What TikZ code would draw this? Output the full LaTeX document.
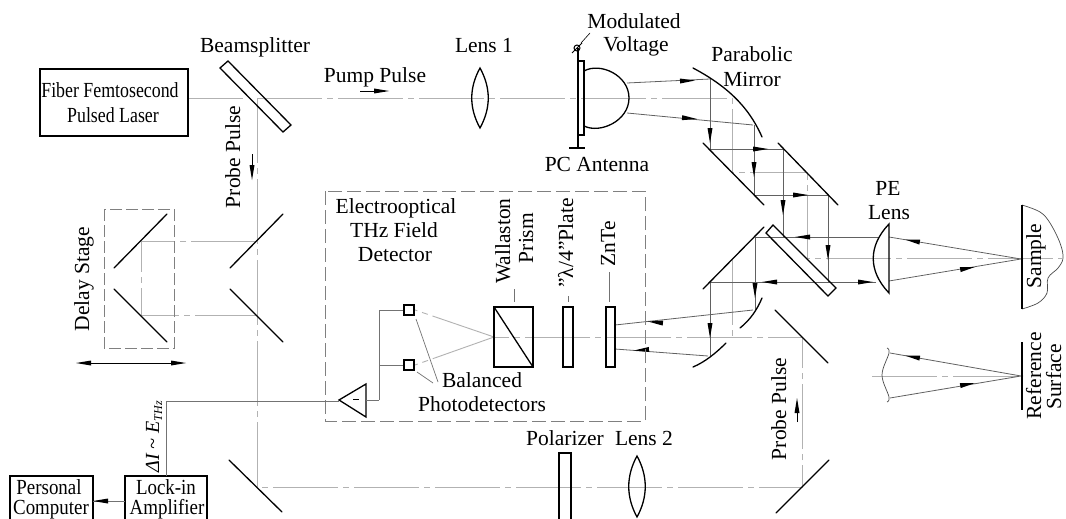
\documentclass[tikz,border=0pt]{standalone}
\usepackage{fontspec}
\setmainfont{Liberation Serif}
\newfontfamily\condfont[FakeStretch=0.83]{Liberation Serif}
\newfontfamily\boxfont[FakeStretch=0.88]{Liberation Serif}
\tikzset{
  x=1pt,y=-1pt,
  lbl/.style={anchor=base,inner sep=0pt,outer sep=0pt,align=center,font=\fontsize{21.5}{24}\selectfont},
  vlbl/.style={lbl,rotate=90},
  optic/.style={draw=black,line width=1.3pt,line cap=round},
  axisline/.style={draw=black!30,line width=0.9pt,dash pattern=on 65pt off 5pt on 6pt off 5pt},
  wire/.style={draw=black!55,line width=0.9pt},
  ray/.style={draw=black!62,line width=0.8pt},
  dashbox/.style={draw=black!50,line width=0.9pt,dash pattern=on 14pt off 5pt},
  unitbox/.style={draw=black,line width=1.3pt},
}
\newcommand{\tipat}[3]{\fill[black,shift={(#1,#2)},rotate=#3] (0,0) -- (-15,2.5) -- (-15,-2.5) -- cycle;}
\begin{document}
\begin{tikzpicture}
\useasboundingbox[fill=white] (0,0) rectangle (1066,519);
% dash-dot beam axes
\draw[axisline] (188,98) -- (243,98);
\draw[axisline] (257,98) -- (732,98) -- (732,172) -- (807,172) -- (807,258) -- (1062,258);
\draw[axisline] (257,98) -- (257,487) -- (802,487) -- (802,337) -- (494,337);
\draw[axisline] (732,260) -- (732,337);
\draw[axisline] (256,241) -- (141,241) -- (141,315) -- (256,315);
\draw[axisline] (494,337) -- (415,310);
\draw[axisline] (494,337) -- (415,365);
\draw[axisline] (872,376) -- (1021,376);
% solid beams
\draw[ray] (710,79) -- (710,149) -- (783,149) -- (783,237);
\draw[ray] (754,125) -- (754,195) -- (828,195) -- (828,282);
\draw[ray] (878,237) -- (755,237) -- (755,310);
\draw[ray] (876,282) -- (710,282) -- (710,356);
\draw[ray] (627,83) -- (710,79);
\draw[ray] (627,113) -- (753,125);
\draw[ray] (753,310) -- (615,325);
\draw[ray] (708,356) -- (615,349);
\draw[ray] (889,237) -- (1021,259) -- (889,281);
\draw[ray] (890,353) -- (1021,376) -- (890,398);
% beam arrowheads
\tipat{695}{80.5}{2}
\tipat{697}{119}{-5}
\tipat{710}{143}{-90}
\tipat{754}{177}{-90}
\tipat{768}{149}{0}
\tipat{808}{195}{0}
\tipat{783}{215}{-90}
\tipat{795}{237}{180}
\tipat{828}{260}{-90}
\tipat{762}{282}{180}
\tipat{873}{282}{0}
\tipat{755}{298}{-90}
\tipat{710}{338}{-90}
\tipat{648}{321.5}{174}
\tipat{634}{350.5}{184}
\tipat{905}{239.5}{170}
\tipat{975}{267}{10}
\tipat{905}{355.5}{170}
\tipat{975}{383}{10}
% laser and beamsplitter
\node[unitbox,minimum width=148pt,minimum height=67pt,inner sep=0pt] (laser) at (114,102.5) {};
\node[lbl] (laserA) at (110,98) {\condfont Fiber Femtosecond};
\node[lbl] (laserB) at (113,122) {\condfont Pulsed Laser};
\draw[optic,line cap=butt,line join=miter] (220,68) -- (228,61) -- (291,125) -- (283,132) -- cycle;
\node[lbl] (bs) at (255,53) {Beamsplitter};
% pump pulse
\node[lbl] (pump) at (375,82) {Pump Pulse};
\draw[line width=0.6pt] (360,91) -- (385,91);
\tipat{389}{91}{0}
% lens 1
\node[lbl] (lensA) at (484,53) {Lens 1};
\draw[optic] (480,68) .. controls (491,88) and (491,108) .. (480,128) .. controls (469,108) and (469,88) .. (480,68) -- cycle;
% antenna
\draw[optic,line cap=butt] (578,61) rectangle (584,135);
\draw[optic,line cap=butt] (578,48) -- (578,148);
\draw[optic,line cap=butt] (569,148) -- (585,148);
\draw[optic,line cap=butt] (584,71) .. controls (600,62) and (629,75) .. (629,98) .. controls (629,121) and (600,134) .. (584,126);
\draw[line width=1pt] (577,48) circle[radius=3];
\draw[line width=1pt] (572,53) -- (582,43);
\draw[line width=0.6pt] (581,43) -- (590,33);
\node[lbl] (volA) at (634,29) {Modulated};
\node[lbl] (volB) at (636,52) {Voltage};
\node[lbl] (pc) at (597,171) {PC Antenna};
% parabolic mirror
\node[lbl] (parA) at (752,62) {Parabolic};
\node[lbl] (parB) at (752,86) {Mirror};
\draw[optic] (693,68) .. controls (725,85) and (748,105) .. (762,137);
% flat mirrors
\draw[optic] (703,143) -- (764,205);
\draw[optic] (778,143) -- (838,205);
\draw[optic] (703,289) -- (764,227);
\draw[optic,line cap=butt,line join=miter] (766,233) -- (773,225) -- (836,288) -- (828,296) -- cycle;
\draw[optic] (740,328) .. controls (750,320) and (757,310) .. (762,298);
\draw[optic] (693,367) .. controls (705,362) and (716,353) .. (726,343);
\draw[optic] (775,310) -- (828,363);
\draw[optic] (776,513) -- (829,460);
\draw[optic] (229,460) -- (282,512);
\draw[optic] (230,268) -- (283,214);
\draw[optic] (230,289) -- (283,342);
\draw[optic] (114,268) -- (167,214);
\draw[optic] (114,289) -- (167,342);
% delay stage
\draw[dashbox,dash pattern=on 12pt off 4pt] (104,209) rectangle (174,348);
\node[vlbl] (delay) at (89,279) {Delay Stage};
\draw[line width=0.7pt] (88,363) -- (175,363);
\tipat{76}{363}{180}
\tipat{186}{363}{0}
% probe labels
\node[vlbl] (probeA) at (240,157) {Probe Pulse};
\draw[line width=0.6pt] (252,154) -- (252,170);
\tipat{252}{180}{-90}
\node[vlbl] (probeB) at (786,409) {Probe Pulse};
\draw[line width=0.6pt] (797,422) -- (797,410);
\tipat{797}{398}{90}
% detector box
\draw[dashbox] (325,191) rectangle (645,421);
\node[lbl] (eoA) at (396,213) {Electrooptical};
\node[lbl] (eoB) at (394,237) {THz Field};
\node[lbl] (eoC) at (395,261) {Detector};
\node[vlbl] (wolA) at (510,241) {Wallaston};
\node[vlbl] (wolB) at (533,238) {Prism};
\node[vlbl] (qwp) at (573,243) {"λ/4"Plate};
\node[vlbl] (znte) at (615,244) {ZnTe};
\draw[wire,line width=0.7pt] (514,289) -- (514,302);
\draw[wire,line width=0.7pt] (568,296) -- (568,302);
\draw[wire,line width=0.7pt] (609,272) -- (609,302);
\draw[optic,line cap=butt] (494,307) rectangle (533,367);
\draw[optic] (494,307) -- (533,367);
\draw[optic,line cap=butt] (563,307) rectangle (573,367);
\draw[optic,line cap=butt] (606,307) rectangle (615,367);
\node[draw=black,line width=1.2pt,minimum size=10pt,inner sep=0pt] (detA) at (409,310) {};
\node[draw=black,line width=1.2pt,minimum size=10pt,inner sep=0pt] (detB) at (409,365) {};
\coordinate (join) at (379,400);
\draw[wire] (detA.west) -- (379,310) -- (join);
\draw[wire] (detB.west) -- (379,365);
\draw[optic,line cap=butt,line join=miter] (339,400) -- (366,384) -- (366,417) -- cycle;
\draw[line width=1pt] (353,399.5) -- (359,399.5);
\draw[wire] (366,400) -- (join);
\node[lbl] (balA) at (482,387) {Balanced};
\node[lbl] (balB) at (482,411) {Photodetectors};
\draw[wire,line width=0.7pt] (416,319) -- (438,382);
\draw[wire,line width=0.7pt] (417,372) -- (433,383);
% bottom boxes
\draw[unitbox] (10,540) -- (10,476) -- (93,476) -- (93,540);
\draw[unitbox] (125,540) -- (125,476) -- (207,476) -- (207,540);
\coordinate (pcedge) at (93,501);
\coordinate (liedge) at (125,501);
\draw[wire] (liedge) -- (pcedge);
\tipat{93}{501}{180}
\node[lbl] (pcA) at (49,494) {\boxfont Personal};
\node[lbl] (pcB) at (51,514.3) {\boxfont Computer};
\node[lbl] (liA) at (166,494) {\boxfont Lock-in};
\node[lbl] (liB) at (167,514.3) {\boxfont Amplifier};
\draw[wire] (339,401) -- (166,401) -- (166,476);
\node[vlbl,font=\fontsize{20}{22}\selectfont] (dI) at (159,437) {\itshape ΔI \char`~\ E\raisebox{-3pt}{\fontsize{12}{14}\selectfont THz}};
% polarizer and lens 2
\draw[optic,line cap=butt] (559,540) -- (559,453) -- (571,453) -- (571,540);
\node[lbl] (polar) at (565,445) {Polarizer};
\node[lbl] (lensB) at (644,445) {Lens 2};
\draw[optic] (637,456) .. controls (648,476) and (648,497) .. (637,517) .. controls (626,497) and (626,476) .. (637,456) -- cycle;
% PE lens
\node[lbl] (peA) at (888,195) {PE};
\node[lbl] (peB) at (889,219) {Lens};
\draw[optic,line cap=butt,line join=miter] (889,224) -- (889,293) .. controls (868,271) and (868,246) .. (889,224) -- cycle;
% sample
\draw[draw=black!70,line width=0.7pt] plot[smooth,tension=0.6] coordinates {(1022,205) (1040,212) (1050,223) (1060,243) (1063,258) (1058,268) (1048,278) (1047,293) (1038,303) (1022,309)};
\draw[optic,line cap=butt] (1022,205) -- (1022,309);
\node[vlbl] (sample) at (1041,256) {Sample};
% reference surface
\draw[draw=black!70,line width=0.7pt] plot[smooth,tension=0.6] coordinates {(887,348) (889,353) (882,375) (889,397) (887,402)};
\draw[optic,line cap=butt] (1022,342) -- (1022,410);
\node[vlbl] (refA) at (1041,376) {Reference};
\node[vlbl] (refB) at (1061,377) {Surface};
\end{tikzpicture}
\end{document}
